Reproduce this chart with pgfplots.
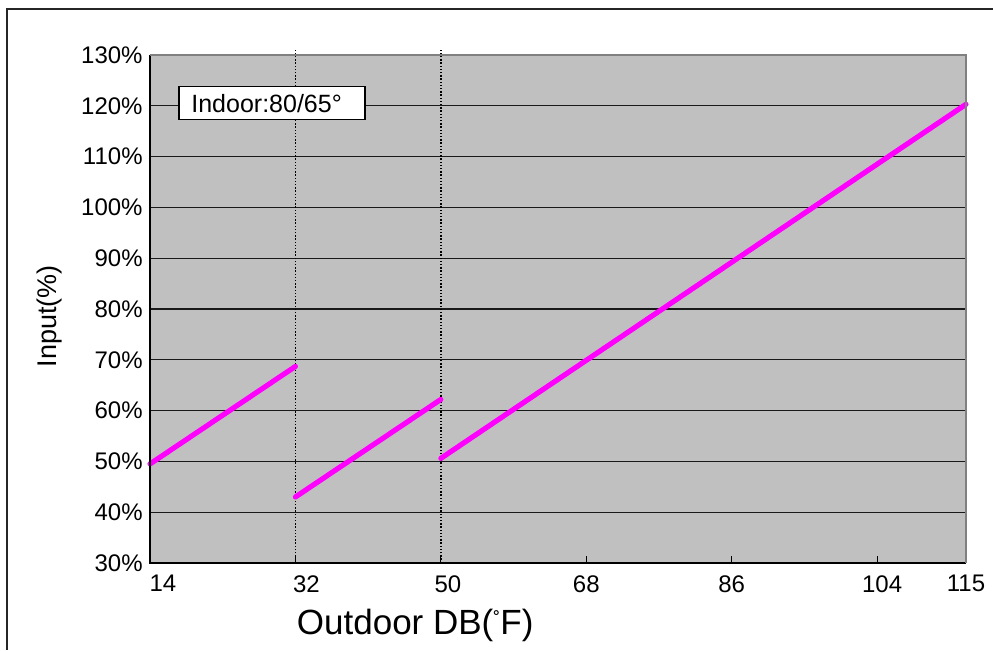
\documentclass[border=0pt]{standalone}
\usepackage{pgfplots}
\pgfplotsset{compat=1.18}
\usepackage{fontspec}
\setmainfont{Liberation Sans}
\definecolor{bgray}{HTML}{C0C0C0}
\definecolor{mag}{HTML}{FF00FF}
\begin{document}
\begin{tikzpicture}
\useasboundingbox (0,0) rectangle (496.5pt,-325pt);
\draw[black!85, line width=0.9pt] (3.5pt,-325pt) -- (3.5pt,-4.5pt) -- (496.5pt,-4.5pt);
\begin{axis}[
  at={(75pt,-281.5pt)}, anchor=south west,
  width=408pt, height=254pt, scale only axis,
  xmin=14, xmax=115, ymin=30, ymax=130,
  clip=false,
  axis background/.style={fill=bgray},
  axis line style={draw=none},
  xtick={14,32,50,68,86,104,115},
  xticklabels={\hspace*{13pt}14,\hspace*{11pt}32,\hspace*{7pt}50,68,86,\hspace*{5pt}104,115},
  ytick={30,40,...,130},
  yticklabels={30\%,40\%,50\%,60\%,70\%,80\%,90\%,100\%,110\%,120\%,130\%},
  xtick pos=bottom, ytick pos=left,
  tick align=inside, major tick length=3.5pt,
  xtick style={black, line width=0.5pt},
  ytick style={draw=none},
  ymajorgrids=true,
  major grid style={black!90, line width=0.6pt},
  ticklabel style={font=\fontsize{12}{13}\selectfont},
  xticklabel style={inner sep=0pt, anchor=north, yshift=-6pt},
  yticklabel style={inner sep=0pt, anchor=east, xshift=-3.5pt},
  xlabel={Outdoor DB(\raisebox{0.35ex}{\fontsize{10.5}{10}\selectfont\char"02DA}F)},
  xlabel style={font=\fontsize{17.5}{19}\selectfont, at={(axis description cs:0.325,0)}, anchor=center, yshift=-31pt},
  ylabel={Input(\%)},
  ylabel style={font=\fontsize{13.5}{15}\selectfont, at={(axis description cs:0,0.486)}, anchor=center, rotate=0, yshift=50pt},
]
\addplot[black, line width=0.8pt, dash pattern=on 0.7pt off 0.9pt] coordinates {(32,30) (32,131.4)};
\addplot[black, line width=0.8pt, dash pattern=on 0.7pt off 0.9pt] coordinates {(50,30) (50,131.4)};
\addplot[mag, line width=2.6pt, line cap=round] coordinates {(14,49.5) (32,68.7)};
\addplot[mag, line width=2.6pt, line cap=round] coordinates {(32,43.0) (50,62.2)};
\addplot[mag, line width=2.6pt, line cap=round] coordinates {(50,50.6) (115,120.3)};
\draw[black, line width=0.8pt] (rel axis cs:0,1) -- (rel axis cs:0,0) -- (rel axis cs:1,0);
\draw[gray, line width=0.8pt] (rel axis cs:0,1) -- (rel axis cs:1,1) -- (rel axis cs:1,0);
\node[draw=black, fill=white, line width=0.75pt, anchor=north west, inner xsep=6.3pt, inner ysep=0pt,
  text width=80.4pt, minimum height=16.5pt, align=left, font=\fontsize{12.5}{14}\selectfont]
  at (axis cs:17.47,123.9) {Indoor:80/65\char"00B0};
\end{axis}
\end{tikzpicture}
\end{document}
